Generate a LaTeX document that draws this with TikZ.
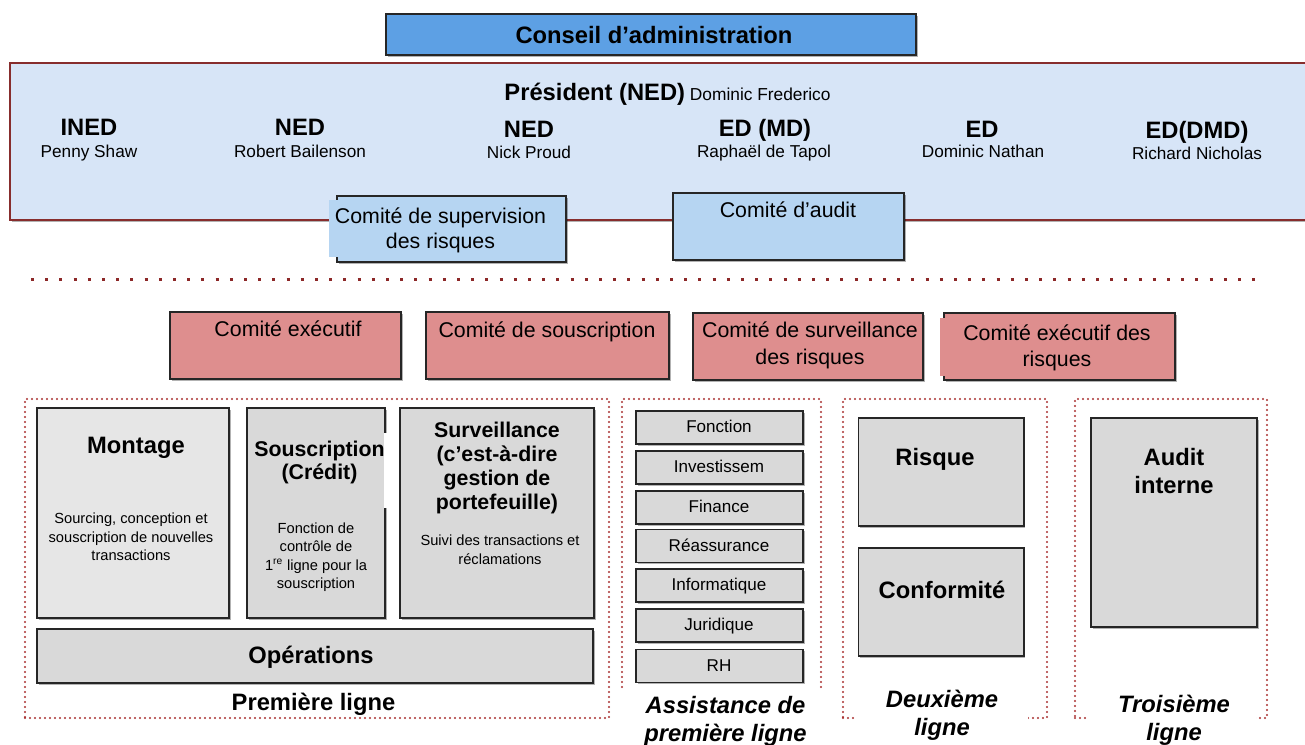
\documentclass[tikz,border=0pt]{standalone}
\usepackage{fontspec}
\setmainfont{Liberation Sans}
\usetikzlibrary{shadows,fit}
\definecolor{conseil}{RGB}{93,160,228}
\definecolor{boardfill}{RGB}{215,229,247}
\definecolor{boardline}{RGB}{135,45,45}
\definecolor{comblue}{RGB}{182,213,242}
\definecolor{compink}{RGB}{222,142,142}
\definecolor{gfill}{RGB}{217,217,217}
\definecolor{gfilllight}{RGB}{230,230,230}
\definecolor{dotred}{RGB}{170,50,50}
\definecolor{sepred}{RGB}{140,40,40}
\newcommand\myfs[1]{\fontsize{#1}{1.2\dimexpr#1pt\relax}\selectfont}
\begin{document}
\begin{tikzpicture}[x=0.75pt,y=-0.75pt,
  shad/.style={drop shadow={shadow xshift=1.2pt,shadow yshift=-1.4pt,opacity=0.3,fill=black}},
  box/.style={draw=black!85,line width=1.4pt,inner sep=0pt,shad},
  bbox/.style={draw=boardline,fill=boardfill,line width=1.4pt,inner sep=0pt,shad},
  grp/.style={draw=dotred,line width=1.6pt,dash pattern=on 0pt off 3.75pt,line cap=round,inner sep=0pt},
  sepline/.style={draw=sepred,line width=2.25pt,dash pattern=on 2.25pt off 8.4pt},
  t/.style={anchor=base,inner sep=0pt},
  tb/.style={t,font=\bfseries\myfs{17.8}},
  tn/.style={t,font=\myfs{12.9}},
  tc/.style={t,font=\myfs{16}},
  ts/.style={t,font=\myfs{11}},
  ti/.style={t,font=\myfs{12.8}},
  tl/.style={t,font=\bfseries\itshape\myfs{17.8}},
]
\useasboundingbox[fill=white] (0,0) rectangle (1305,744);

% Conseil d'administration
\node[box,fill=conseil,fit={(386,14) (916,55)}] (conseil) {};
\node[tb] (conseilT) at (654,43) {Conseil d’administration};

% Board
\node[bbox,fit={(10,63) (1330,220)}] (board) {};
\node[t] (pres) at (667.5,100) {{\bfseries\myfs{17.8}Président (NED)}{\myfs{13} Dominic Frederico}};
\node[tb] (m1t) at (89,135) {INED};
\node[tn] (m1n) at (89,157) {Penny Shaw};
\node[tb] (m2t) at (300,135) {NED};
\node[tn] (m2n) at (300,157) {Robert Bailenson};
\node[tb] (m3t) at (529,137) {NED};
\node[tn] (m3n) at (529,158) {Nick Proud};
\node[tb] (m4t) at (765,136.5) {ED (MD)};
\node[tn] (m4n) at (764,157) {Raphaël de Tapol};
\node[tb] (m5t) at (982,137) {ED};
\node[tn] (m5n) at (983,157) {Dominic Nathan};
\node[tb] (m6t) at (1197,138.5) {ED(DMD)};
\node[tn] (m6n) at (1197,159) {Richard Nicholas};

% Board committees
\node[box,fill=comblue,fit={(337,196) (566,262)}] (csr) {};
\fill[comblue] (329,200) rectangle (338,257);
\node[tc] (csr1) at (440.5,223) {Comité de supervision};
\node[tc] (csr2) at (440.5,248) {des risques};
\node[box,fill=comblue,fit={(673,193) (904,260)}] (caud) {};
\node[tc] (caudT) at (788,217) {Comité d’audit};

% Separator
\coordinate (sepL) at (31,279);
\coordinate (sepR) at (1264,279);
\draw[sepline] (sepL) -- (sepR);

% Executive committees
\node[box,fill=compink,fit={(170,312) (401,379)}] (cex) {};
\node[tc] (cexT) at (288,336.7) {Comité exécutif};
\node[box,fill=compink,fit={(426,312) (669,379)}] (csous) {};
\node[tc] (csousT) at (547,337) {Comité de souscription};
\node[box,fill=compink,fit={(693,313) (923,380)}] (csurv) {};
\node[tc] (csurv1) at (810,337.7) {Comité de surveillance};
\node[tc] (csurv2) at (810,364) {des risques};
\node[box,fill=compink,fit={(944,313) (1175,380)}] (cexr) {};
\fill[compink] (940,318) rectangle (945,376);
\node[tc] (cexr1) at (1057,340) {Comité exécutif des};
\node[tc] (cexr2) at (1057,366) {risques};

% Dotted groups
\node[grp,fit={(25,399) (609,718)}] (g1) {};
\node[grp,fit={(622,399) (821,718)}] (g2) {};
\node[grp,fit={(843,399) (1047,718)}] (g3) {};
\node[grp,fit={(1075,399) (1267,718)}] (g4) {};

% First line
\node[box,fill=gfilllight,fit={(37,408) (229,618)}] (montage) {};
\node[tb] (montageT) at (136,453.3) {Montage};
\node[ts] (mon1) at (131,523.5) {Sourcing, conception et};
\node[ts] (mon2) at (131,542) {souscription de nouvelles};
\node[ts] (mon3) at (131,560.5) {transactions};

\node[box,fill=gfill,fit={(247,408) (385,618)}] (sousc) {};
\fill[white] (383.6,433) rectangle (391,508);
\node[t,font=\bfseries\myfs{16}] (sousc1) at (319.5,456) {Souscription};
\node[t,font=\bfseries\myfs{16}] (sousc2) at (319.5,479) {(Crédit)};
\node[ts] (sd1) at (316,533) {Fonction de};
\node[ts] (sd2) at (316,551.5) {contrôle de};
\node[ts] (sd3) at (316,570) {1\textsuperscript{re} ligne pour la};
\node[ts] (sd4) at (316,588.5) {souscription};

\node[box,fill=gfill,fit={(400,408) (594,618)}] (surv) {};
\node[t,font=\bfseries\myfs{16}] (sv1) at (497,437.7) {Surveillance};
\node[t,font=\bfseries\myfs{16}] (sv2) at (497,461.5) {(c’est-à-dire};
\node[t,font=\bfseries\myfs{16}] (sv3) at (497,485.3) {gestion de};
\node[t,font=\bfseries\myfs{16}] (sv4) at (497,509) {portefeuille)};
\node[ts] (svd1) at (500,545) {Suivi des transactions et};
\node[ts] (svd2) at (500,564) {réclamations};

\node[box,fill=gfill,fit={(37,629) (593,683)}] (ops) {};
\node[tb] (opsT) at (311,663) {Opérations};

\fill[white] (191,687) rectangle (436,713);
\node[tb] (l1) at (313.5,710) {Première ligne};

% Support functions
\fill[white] (615,690) rectangle (830,744);
\foreach \txt/\c/\n in {Fonction/427.5/i1,Investissem/467.5/i2,Finance/507.5/i3,Réassurance/546/i4,Informatique/585.5/i5,Juridique/625.5/i6,RH/666/i7}{
  \node[box,fill=gfill,fit={(636,\c-16.5) (803,\c+16.5)}] (\n) {};
  \node[ti] (\n t) at (719,\c+5.3) {\txt};
}
\node[tl] (l2a) at (725.5,713.3) {Assistance de};
\node[tl] (l2b) at (725.5,741) {première ligne};

% Second line
\node[box,fill=gfill,fit={(858.5,418) (1023.6,526)}] (risque) {};
\node[tb] (risqueT) at (935,465) {Risque};
\node[box,fill=gfill,fit={(858.5,548) (1023.6,656)}] (conf) {};
\node[tb] (confT) at (942,598.3) {Conformité};
\fill[white] (855,688) rectangle (1028,744);
\node[tl] (l3a) at (942,707.3) {Deuxième};
\node[tl] (l3b) at (942,735.7) {ligne};

% Third line
\node[box,fill=gfill,fit={(1091,418) (1257,627)}] (audit) {};
\node[tb] (audit1) at (1174,465) {Audit};
\node[tb] (audit2) at (1174,493.3) {interne};
\fill[white] (1088,690) rectangle (1256,744);
\node[tl] (l4a) at (1174,712.7) {Troisième};
\node[tl] (l4b) at (1174,740.7) {ligne};
\end{tikzpicture}
\end{document}
